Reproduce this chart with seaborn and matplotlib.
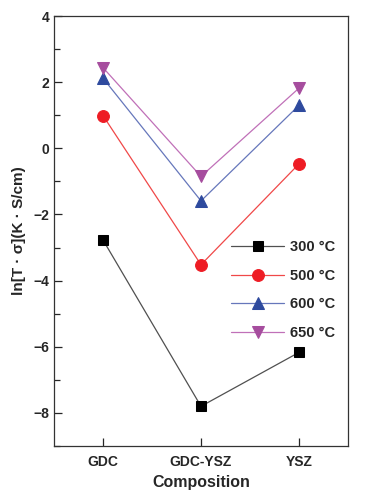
import matplotlib
matplotlib.use("Agg")
import matplotlib.pyplot as plt
import seaborn as sns
import numpy as np
from matplotlib.ticker import MultipleLocator

sns.set_style("ticks")
plt.rcParams['font.family'] = ['Liberation Sans', 'DejaVu Sans']

categories = ["GDC", "GDC-YSZ", "YSZ"]
labels = ["300 °C", "500 °C", "600 °C", "650 °C"]
v300 = [-2.77, -7.80, -6.17]
v500 = [0.99, -3.52, -0.47]
v600 = [2.12, -1.59, 1.30]
v650 = [2.44, -0.85, 1.82]
series = [v300, v500, v600, v650]

marker_colors = ["#000000", "#ee1c24", "#2e4a9e", "#a64d9e"]
line_colors = ["#505050", "#f04848", "#6677bb", "#c070b8"]
markers = ["s", "o", "^", "v"]
msizes = [7, 8.5, 9, 9]

fig = plt.figure(figsize=(3.75, 4.96), dpi=100)
ax = fig.add_axes([0.144, 0.1008, 0.784, 0.8669])

for vals, lab, mc, lc, m, ms in zip(series, labels, marker_colors, line_colors, markers, msizes):
    sns.lineplot(x=categories, y=vals, ax=ax, color=lc, marker=m, markersize=ms,
                 markerfacecolor=mc, markeredgecolor=mc, linewidth=0.9, label=lab, sort=False)

ax.set_xlim(-0.5, 2.5)
ax.set_ylim(-9, 4)
ax.yaxis.set_major_locator(MultipleLocator(2))
ax.yaxis.set_minor_locator(MultipleLocator(1))
ax.set_xticks([0, 1, 2])
ax.set_xticklabels(categories)
ax.tick_params(axis='both', which='both', direction='in', labelsize=10)
ax.tick_params(axis='both', which='major', length=6, width=0.9)
ax.tick_params(axis='x', which='major', pad=6.5)
ax.tick_params(axis='y', which='minor', length=4, width=0.9)
ax.tick_params(axis='y', right=False)
ax.set_yticklabels([("\u2212%d" % -t if t < 0 else "%d" % t) for t in ax.get_yticks()])
for lbl in ax.get_xticklabels() + ax.get_yticklabels():
    lbl.set_fontweight('bold')
ax.set_xlabel("Composition", fontsize=11.5, fontweight='bold', labelpad=4)
ax.set_ylabel("ln[T · σ](K · S/cm)", fontsize=11, fontweight='bold', labelpad=5)
for s in ax.spines.values():
    s.set_linewidth(0.9)
    s.set_color("#333333")

leg = ax.legend(loc='upper left', bbox_to_anchor=(0.617, 0.516), bbox_transform=fig.transFigure,
                frameon=False, fontsize=10.5, handlelength=3.6, handletextpad=0.4,
                labelspacing=1.0, borderpad=0, borderaxespad=0)
for t in leg.get_texts():
    t.set_fontweight('bold')

fig.savefig("out.png", dpi=100)
